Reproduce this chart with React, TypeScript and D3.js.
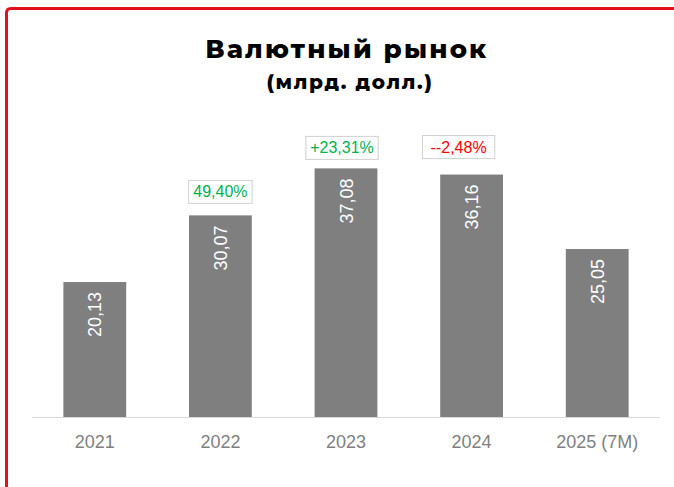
import React from "react";
import * as d3 from "d3";

// Данные графика
const years = ["2021", "2022", "2023", "2024", "2025 (7M)"];
const volumes = [20.13, 30.07, 37.08, 36.16, 25.05];
const growthLabels = [null, "49,40%", "+23,31%", "--2,48%", null];
const growthUp = [null, true, true, false, null];

// небольшие сдвиги подписей роста (как в оригинале, вручную)
const growthNudgeX = [0, 0, -4, -13, 0];
const growthGap = [0, 12, 9, 16, 0];

const W = 674;
const H = 487;
const margin = { left: 32, right: 14, top: 0, bottom: 70 };
const baseline = 417;

export default function App() {
  const x = d3
    .scaleBand<string>()
    .domain(years)
    .range([margin.left, W - margin.right])
    .paddingInner(0.5)
    .paddingOuter(0.25);

  const y = d3.scaleLinear().domain([0, 40]).range([baseline, baseline - 268.2]);

  const fmt = (v: number) => v.toFixed(2).replace(".", ",");
  const font = "'Liberation Sans', Arial, sans-serif";
  const titleFont = "Montserrat, 'Open Sans', sans-serif";

  return (
    <svg
      width={W}
      height={H}
      style={{ position: "absolute", left: 0, top: 0, background: "#fff" }}
    >
      {/* красная рамка */}
      <path
        d={`M6.5,${H + 5} L6.5,13 Q6.5,8.5 11,8.5 L${W + 5},8.5`}
        fill="none"
        stroke="#e3101b"
        strokeWidth={3}
      />

      <text
        x={347}
        y={58}
        textAnchor="middle"
        fontFamily={titleFont}
        fontWeight={800}
        fontSize={26}
        letterSpacing={2.2}
        fill="#000"
      >
        Валютный рынок
      </text>
      <text
        x={350}
        y={89}
        textAnchor="middle"
        fontFamily={titleFont}
        fontWeight={800}
        fontSize={20}
        letterSpacing={1.7}
        fill="#000"
      >
        (млрд. долл.)
      </text>

      {/* ось X */}
      <line
        x1={margin.left}
        x2={660}
        y1={baseline + 0.5}
        y2={baseline + 0.5}
        stroke="#d9d9d9"
        strokeWidth={1}
      />

      {years.map((yr, i) => {
        const bx = x(yr)!;
        const bw = x.bandwidth();
        const top = y(volumes[i]);
        const cx = bx + bw / 2;
        return (
          <g key={yr}>
            <rect x={bx} y={top} width={bw} height={baseline - top} fill="#7f7f7f" />
            <text
              transform={`translate(${cx + 6.5},${top + 10}) rotate(-90)`}
              textAnchor="end"
              fontFamily={font}
              fontSize={18}
              fill="#fff"
            >
              {fmt(volumes[i])}
            </text>
            <text
              x={cx}
              y={448}
              textAnchor="middle"
              fontFamily={font}
              fontSize={18}
              fill="#7f7f7f"
            >
              {yr}
            </text>
          </g>
        );
      })}

      {years.map((yr, i) => {
        const lbl = growthLabels[i];
        if (!lbl) return null;
        const cx = x(yr)! + x.bandwidth() / 2 + growthNudgeX[i];
        const boxBottom = y(volumes[i]) - growthGap[i];
        const boxW = lbl.length * 8.9 + 10;
        const boxH = 23;
        return (
          <g key={"g" + yr}>
            <rect
              x={cx - boxW / 2}
              y={boxBottom - boxH}
              width={boxW}
              height={boxH}
              fill="#fff"
              stroke="#d0d0d0"
              strokeWidth={1}
            />
            <text
              x={cx}
              y={boxBottom - 6}
              textAnchor="middle"
              fontFamily={font}
              fontSize={16}
              fill={growthUp[i] ? "#00b050" : "#ff0000"}
            >
              {lbl}
            </text>
          </g>
        );
      })}
    </svg>
  );
}
